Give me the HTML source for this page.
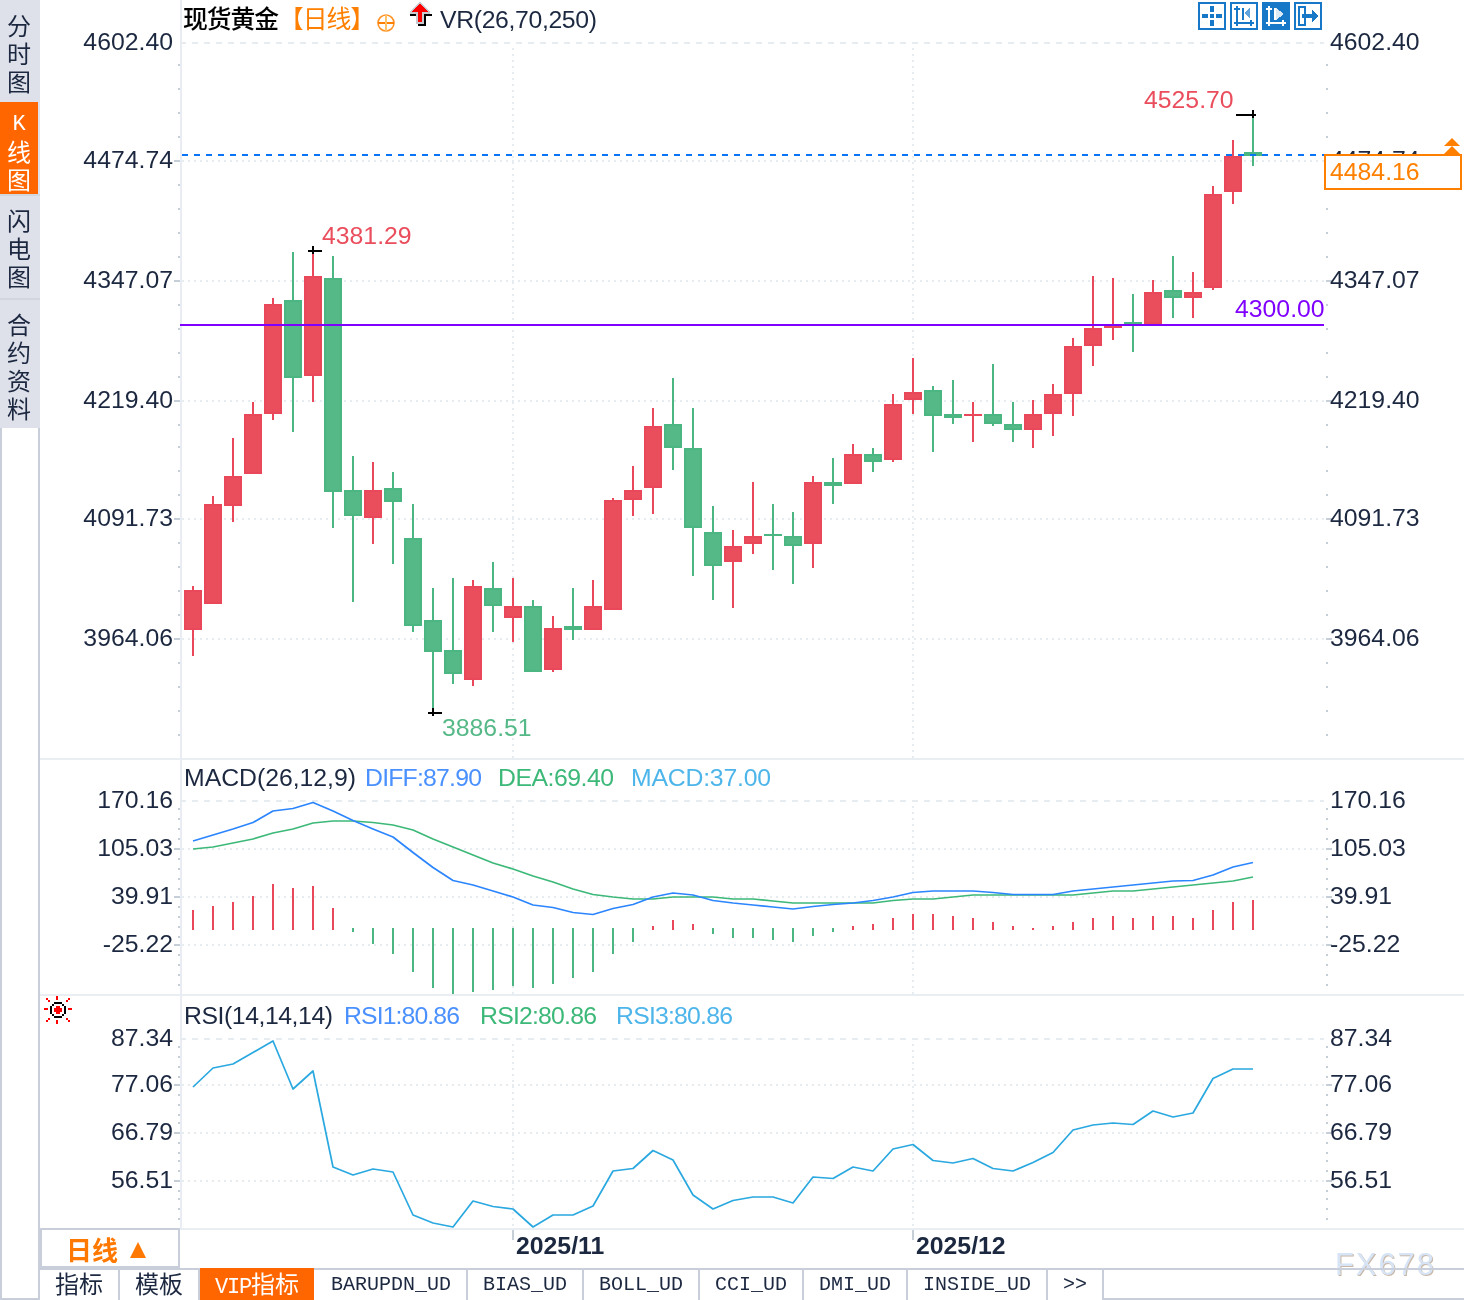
<!DOCTYPE html>
<html lang="zh-CN"><head><meta charset="utf-8"><title>现货黄金 日线</title>
<style>
html,body{margin:0;padding:0;background:#fff}
body{width:1464px;height:1300px;position:relative;overflow:hidden;font-family:"Liberation Sans","Noto Sans CJK SC",sans-serif;color:#1c2840}
#side{position:absolute;left:0;top:0;width:40px;height:428px;background:#dfe1ea}
#side .tab{position:absolute;left:0;width:38px;text-align:center;font-size:24px;line-height:28px}
#side .tab span{display:block;height:28px}
#side .sep{position:absolute;left:0;width:40px;height:2px;background:#d2d6df}
#sidebox{position:absolute;left:0;top:428px;width:36px;height:870px;border:2px solid #c8cfda;border-top:none;background:#fff}
#period{position:absolute;left:40px;top:1228px;width:136px;height:36px;border:2px solid #c8cfda;background:#fff;box-sizing:content-box}
#period b{position:absolute;left:24px;top:3px;font-size:26px;line-height:36px;color:#ff7800;font-weight:bold}
#period i{position:absolute;left:88px;top:12px;width:0;height:0;border-left:8px solid transparent;border-right:8px solid transparent;border-bottom:16px solid #ff7800}
#tabs{position:absolute;left:40px;top:1268px;height:32px;width:1424px;border-top:2px solid #c8cfda;box-sizing:border-box}
#tabs div{position:absolute;top:0;height:30px;line-height:30px;font-size:24px;border-right:2px solid #c8cfda;text-align:center;white-space:nowrap}
#tabs .m{font-family:"Liberation Mono","Noto Sans CJK SC",monospace;font-size:20px;line-height:30px}
#tabs .on{background:#ff6600;color:#fff;top:-2px;height:32px;line-height:34px;border-right:none}
#tabs .end{border-right:none;border-bottom:2px solid #c8cfda;height:28px}
</style></head><body>
<svg width="1464" height="1300" viewBox="0 0 1464 1300" style="position:absolute;left:0;top:0" shape-rendering="crispEdges">
<rect x="40" y="758" width="1424" height="2" fill="#e9eef3"/>
<rect x="40" y="994" width="1424" height="2" fill="#e9eef3"/>
<rect x="40" y="1228" width="1424" height="2" fill="#e9eef3"/>
<rect x="180" y="0" width="2" height="1230" fill="#e9edf3"/>
<line x1="180" y1="43" x2="1324" y2="43" stroke="#e7ecf1" stroke-width="2" stroke-dasharray="6 6"/>
<line x1="182" y1="161" x2="1324" y2="161" stroke="#e7ecf1" stroke-width="2" stroke-dasharray="2 4"/>
<line x1="182" y1="281" x2="1324" y2="281" stroke="#e7ecf1" stroke-width="2" stroke-dasharray="2 4"/>
<line x1="182" y1="401" x2="1324" y2="401" stroke="#e7ecf1" stroke-width="2" stroke-dasharray="2 4"/>
<line x1="182" y1="519" x2="1324" y2="519" stroke="#e7ecf1" stroke-width="2" stroke-dasharray="2 4"/>
<line x1="182" y1="639" x2="1324" y2="639" stroke="#e7ecf1" stroke-width="2" stroke-dasharray="2 4"/>
<line x1="180" y1="801" x2="1324" y2="801" stroke="#e7ecf1" stroke-width="2" stroke-dasharray="6 6"/>
<line x1="182" y1="849" x2="1324" y2="849" stroke="#e7ecf1" stroke-width="2" stroke-dasharray="2 4"/>
<line x1="182" y1="897" x2="1324" y2="897" stroke="#e7ecf1" stroke-width="2" stroke-dasharray="2 4"/>
<line x1="182" y1="945" x2="1324" y2="945" stroke="#e7ecf1" stroke-width="2" stroke-dasharray="2 4"/>
<line x1="180" y1="1039" x2="1324" y2="1039" stroke="#e7ecf1" stroke-width="2" stroke-dasharray="6 6"/>
<line x1="182" y1="1085" x2="1324" y2="1085" stroke="#e7ecf1" stroke-width="2" stroke-dasharray="2 4"/>
<line x1="182" y1="1133" x2="1324" y2="1133" stroke="#e7ecf1" stroke-width="2" stroke-dasharray="2 4"/>
<line x1="182" y1="1181" x2="1324" y2="1181" stroke="#e7ecf1" stroke-width="2" stroke-dasharray="2 4"/>
<line x1="513" y1="48" x2="513" y2="758" stroke="#e7ecf1" stroke-width="2" stroke-dasharray="2 4"/>
<line x1="513" y1="806" x2="513" y2="994" stroke="#e7ecf1" stroke-width="2" stroke-dasharray="2 4"/>
<line x1="513" y1="1044" x2="513" y2="1228" stroke="#e7ecf1" stroke-width="2" stroke-dasharray="2 4"/>
<rect x="512" y="1230" width="2" height="10" fill="#c6ced7"/>
<line x1="913" y1="48" x2="913" y2="758" stroke="#e7ecf1" stroke-width="2" stroke-dasharray="2 4"/>
<line x1="913" y1="806" x2="913" y2="994" stroke="#e7ecf1" stroke-width="2" stroke-dasharray="2 4"/>
<line x1="913" y1="1044" x2="913" y2="1228" stroke="#e7ecf1" stroke-width="2" stroke-dasharray="2 4"/>
<rect x="912" y="1230" width="2" height="10" fill="#c6ced7"/>
<rect x="178" y="64" width="2" height="2" fill="#c6ced7"/>
<rect x="1326" y="64" width="2" height="2" fill="#c6ced7"/>
<rect x="178" y="88" width="2" height="2" fill="#c6ced7"/>
<rect x="1326" y="88" width="2" height="2" fill="#c6ced7"/>
<rect x="178" y="112" width="2" height="2" fill="#c6ced7"/>
<rect x="1326" y="112" width="2" height="2" fill="#c6ced7"/>
<rect x="178" y="136" width="2" height="2" fill="#c6ced7"/>
<rect x="1326" y="136" width="2" height="2" fill="#c6ced7"/>
<rect x="174" y="160" width="6" height="2" fill="#c6ced7"/>
<rect x="1326" y="160" width="6" height="2" fill="#c6ced7"/>
<rect x="178" y="184" width="2" height="2" fill="#c6ced7"/>
<rect x="1326" y="184" width="2" height="2" fill="#c6ced7"/>
<rect x="178" y="208" width="2" height="2" fill="#c6ced7"/>
<rect x="1326" y="208" width="2" height="2" fill="#c6ced7"/>
<rect x="178" y="232" width="2" height="2" fill="#c6ced7"/>
<rect x="1326" y="232" width="2" height="2" fill="#c6ced7"/>
<rect x="178" y="256" width="2" height="2" fill="#c6ced7"/>
<rect x="1326" y="256" width="2" height="2" fill="#c6ced7"/>
<rect x="174" y="280" width="6" height="2" fill="#c6ced7"/>
<rect x="1326" y="280" width="6" height="2" fill="#c6ced7"/>
<rect x="178" y="304" width="2" height="2" fill="#c6ced7"/>
<rect x="1326" y="304" width="2" height="2" fill="#c6ced7"/>
<rect x="178" y="328" width="2" height="2" fill="#c6ced7"/>
<rect x="1326" y="328" width="2" height="2" fill="#c6ced7"/>
<rect x="178" y="352" width="2" height="2" fill="#c6ced7"/>
<rect x="1326" y="352" width="2" height="2" fill="#c6ced7"/>
<rect x="178" y="376" width="2" height="2" fill="#c6ced7"/>
<rect x="1326" y="376" width="2" height="2" fill="#c6ced7"/>
<rect x="174" y="400" width="6" height="2" fill="#c6ced7"/>
<rect x="1326" y="400" width="6" height="2" fill="#c6ced7"/>
<rect x="178" y="424" width="2" height="2" fill="#c6ced7"/>
<rect x="1326" y="424" width="2" height="2" fill="#c6ced7"/>
<rect x="178" y="446" width="2" height="2" fill="#c6ced7"/>
<rect x="1326" y="446" width="2" height="2" fill="#c6ced7"/>
<rect x="178" y="470" width="2" height="2" fill="#c6ced7"/>
<rect x="1326" y="470" width="2" height="2" fill="#c6ced7"/>
<rect x="178" y="494" width="2" height="2" fill="#c6ced7"/>
<rect x="1326" y="494" width="2" height="2" fill="#c6ced7"/>
<rect x="174" y="518" width="6" height="2" fill="#c6ced7"/>
<rect x="1326" y="518" width="6" height="2" fill="#c6ced7"/>
<rect x="178" y="542" width="2" height="2" fill="#c6ced7"/>
<rect x="1326" y="542" width="2" height="2" fill="#c6ced7"/>
<rect x="178" y="566" width="2" height="2" fill="#c6ced7"/>
<rect x="1326" y="566" width="2" height="2" fill="#c6ced7"/>
<rect x="178" y="590" width="2" height="2" fill="#c6ced7"/>
<rect x="1326" y="590" width="2" height="2" fill="#c6ced7"/>
<rect x="178" y="614" width="2" height="2" fill="#c6ced7"/>
<rect x="1326" y="614" width="2" height="2" fill="#c6ced7"/>
<rect x="174" y="638" width="6" height="2" fill="#c6ced7"/>
<rect x="1326" y="638" width="6" height="2" fill="#c6ced7"/>
<rect x="178" y="662" width="2" height="2" fill="#c6ced7"/>
<rect x="1326" y="662" width="2" height="2" fill="#c6ced7"/>
<rect x="178" y="686" width="2" height="2" fill="#c6ced7"/>
<rect x="1326" y="686" width="2" height="2" fill="#c6ced7"/>
<rect x="178" y="710" width="2" height="2" fill="#c6ced7"/>
<rect x="1326" y="710" width="2" height="2" fill="#c6ced7"/>
<rect x="178" y="734" width="2" height="2" fill="#c6ced7"/>
<rect x="1326" y="734" width="2" height="2" fill="#c6ced7"/>
<rect x="178" y="808" width="2" height="2" fill="#c6ced7"/>
<rect x="1326" y="808" width="2" height="2" fill="#c6ced7"/>
<rect x="178" y="818" width="2" height="2" fill="#c6ced7"/>
<rect x="1326" y="818" width="2" height="2" fill="#c6ced7"/>
<rect x="178" y="828" width="2" height="2" fill="#c6ced7"/>
<rect x="1326" y="828" width="2" height="2" fill="#c6ced7"/>
<rect x="178" y="838" width="2" height="2" fill="#c6ced7"/>
<rect x="1326" y="838" width="2" height="2" fill="#c6ced7"/>
<rect x="174" y="848" width="6" height="2" fill="#c6ced7"/>
<rect x="1326" y="848" width="6" height="2" fill="#c6ced7"/>
<rect x="178" y="858" width="2" height="2" fill="#c6ced7"/>
<rect x="1326" y="858" width="2" height="2" fill="#c6ced7"/>
<rect x="178" y="868" width="2" height="2" fill="#c6ced7"/>
<rect x="1326" y="868" width="2" height="2" fill="#c6ced7"/>
<rect x="178" y="878" width="2" height="2" fill="#c6ced7"/>
<rect x="1326" y="878" width="2" height="2" fill="#c6ced7"/>
<rect x="178" y="888" width="2" height="2" fill="#c6ced7"/>
<rect x="1326" y="888" width="2" height="2" fill="#c6ced7"/>
<rect x="174" y="896" width="6" height="2" fill="#c6ced7"/>
<rect x="1326" y="896" width="6" height="2" fill="#c6ced7"/>
<rect x="178" y="906" width="2" height="2" fill="#c6ced7"/>
<rect x="1326" y="906" width="2" height="2" fill="#c6ced7"/>
<rect x="178" y="916" width="2" height="2" fill="#c6ced7"/>
<rect x="1326" y="916" width="2" height="2" fill="#c6ced7"/>
<rect x="178" y="926" width="2" height="2" fill="#c6ced7"/>
<rect x="1326" y="926" width="2" height="2" fill="#c6ced7"/>
<rect x="178" y="936" width="2" height="2" fill="#c6ced7"/>
<rect x="1326" y="936" width="2" height="2" fill="#c6ced7"/>
<rect x="174" y="944" width="6" height="2" fill="#c6ced7"/>
<rect x="1326" y="944" width="6" height="2" fill="#c6ced7"/>
<rect x="178" y="954" width="2" height="2" fill="#c6ced7"/>
<rect x="1326" y="954" width="2" height="2" fill="#c6ced7"/>
<rect x="178" y="964" width="2" height="2" fill="#c6ced7"/>
<rect x="1326" y="964" width="2" height="2" fill="#c6ced7"/>
<rect x="178" y="974" width="2" height="2" fill="#c6ced7"/>
<rect x="1326" y="974" width="2" height="2" fill="#c6ced7"/>
<rect x="178" y="984" width="2" height="2" fill="#c6ced7"/>
<rect x="1326" y="984" width="2" height="2" fill="#c6ced7"/>
<rect x="178" y="1046" width="2" height="2" fill="#c6ced7"/>
<rect x="1326" y="1046" width="2" height="2" fill="#c6ced7"/>
<rect x="178" y="1056" width="2" height="2" fill="#c6ced7"/>
<rect x="1326" y="1056" width="2" height="2" fill="#c6ced7"/>
<rect x="178" y="1066" width="2" height="2" fill="#c6ced7"/>
<rect x="1326" y="1066" width="2" height="2" fill="#c6ced7"/>
<rect x="178" y="1076" width="2" height="2" fill="#c6ced7"/>
<rect x="1326" y="1076" width="2" height="2" fill="#c6ced7"/>
<rect x="174" y="1084" width="6" height="2" fill="#c6ced7"/>
<rect x="1326" y="1084" width="6" height="2" fill="#c6ced7"/>
<rect x="178" y="1094" width="2" height="2" fill="#c6ced7"/>
<rect x="1326" y="1094" width="2" height="2" fill="#c6ced7"/>
<rect x="178" y="1104" width="2" height="2" fill="#c6ced7"/>
<rect x="1326" y="1104" width="2" height="2" fill="#c6ced7"/>
<rect x="178" y="1114" width="2" height="2" fill="#c6ced7"/>
<rect x="1326" y="1114" width="2" height="2" fill="#c6ced7"/>
<rect x="178" y="1122" width="2" height="2" fill="#c6ced7"/>
<rect x="1326" y="1122" width="2" height="2" fill="#c6ced7"/>
<rect x="174" y="1132" width="6" height="2" fill="#c6ced7"/>
<rect x="1326" y="1132" width="6" height="2" fill="#c6ced7"/>
<rect x="178" y="1142" width="2" height="2" fill="#c6ced7"/>
<rect x="1326" y="1142" width="2" height="2" fill="#c6ced7"/>
<rect x="178" y="1152" width="2" height="2" fill="#c6ced7"/>
<rect x="1326" y="1152" width="2" height="2" fill="#c6ced7"/>
<rect x="178" y="1160" width="2" height="2" fill="#c6ced7"/>
<rect x="1326" y="1160" width="2" height="2" fill="#c6ced7"/>
<rect x="178" y="1170" width="2" height="2" fill="#c6ced7"/>
<rect x="1326" y="1170" width="2" height="2" fill="#c6ced7"/>
<rect x="174" y="1180" width="6" height="2" fill="#c6ced7"/>
<rect x="1326" y="1180" width="6" height="2" fill="#c6ced7"/>
<rect x="178" y="1190" width="2" height="2" fill="#c6ced7"/>
<rect x="1326" y="1190" width="2" height="2" fill="#c6ced7"/>
<rect x="178" y="1198" width="2" height="2" fill="#c6ced7"/>
<rect x="1326" y="1198" width="2" height="2" fill="#c6ced7"/>
<rect x="178" y="1208" width="2" height="2" fill="#c6ced7"/>
<rect x="1326" y="1208" width="2" height="2" fill="#c6ced7"/>
<rect x="178" y="1218" width="2" height="2" fill="#c6ced7"/>
<rect x="1326" y="1218" width="2" height="2" fill="#c6ced7"/>
<rect x="192" y="586" width="2" height="70" fill="#e9485b"/>
<rect x="184" y="590" width="18" height="40" fill="#e9485b"/>
<rect x="186" y="592" width="14" height="36" fill="#ea4d5c"/>
<rect x="212" y="496" width="2" height="108" fill="#e9485b"/>
<rect x="204" y="504" width="18" height="100" fill="#e9485b"/>
<rect x="206" y="506" width="14" height="96" fill="#ea4d5c"/>
<rect x="232" y="438" width="2" height="84" fill="#e9485b"/>
<rect x="224" y="476" width="18" height="30" fill="#e9485b"/>
<rect x="226" y="478" width="14" height="26" fill="#ea4d5c"/>
<rect x="252" y="402" width="2" height="72" fill="#e9485b"/>
<rect x="244" y="414" width="18" height="60" fill="#e9485b"/>
<rect x="246" y="416" width="14" height="56" fill="#ea4d5c"/>
<rect x="272" y="298" width="2" height="122" fill="#e9485b"/>
<rect x="264" y="304" width="18" height="110" fill="#e9485b"/>
<rect x="266" y="306" width="14" height="106" fill="#ea4d5c"/>
<rect x="292" y="252" width="2" height="180" fill="#4cb683"/>
<rect x="284" y="300" width="18" height="78" fill="#4cb683"/>
<rect x="286" y="302" width="14" height="74" fill="#55b987"/>
<rect x="312" y="250" width="2" height="152" fill="#e9485b"/>
<rect x="304" y="276" width="18" height="100" fill="#e9485b"/>
<rect x="306" y="278" width="14" height="96" fill="#ea4d5c"/>
<rect x="332" y="256" width="2" height="272" fill="#4cb683"/>
<rect x="324" y="278" width="18" height="214" fill="#4cb683"/>
<rect x="326" y="280" width="14" height="210" fill="#55b987"/>
<rect x="352" y="456" width="2" height="146" fill="#4cb683"/>
<rect x="344" y="490" width="18" height="26" fill="#4cb683"/>
<rect x="346" y="492" width="14" height="22" fill="#55b987"/>
<rect x="372" y="462" width="2" height="82" fill="#e9485b"/>
<rect x="364" y="490" width="18" height="28" fill="#e9485b"/>
<rect x="366" y="492" width="14" height="24" fill="#ea4d5c"/>
<rect x="392" y="472" width="2" height="92" fill="#4cb683"/>
<rect x="384" y="488" width="18" height="14" fill="#4cb683"/>
<rect x="386" y="490" width="14" height="10" fill="#55b987"/>
<rect x="412" y="504" width="2" height="128" fill="#4cb683"/>
<rect x="404" y="538" width="18" height="88" fill="#4cb683"/>
<rect x="406" y="540" width="14" height="84" fill="#55b987"/>
<rect x="432" y="588" width="2" height="122" fill="#4cb683"/>
<rect x="424" y="620" width="18" height="32" fill="#4cb683"/>
<rect x="426" y="622" width="14" height="28" fill="#55b987"/>
<rect x="452" y="578" width="2" height="106" fill="#4cb683"/>
<rect x="444" y="650" width="18" height="24" fill="#4cb683"/>
<rect x="446" y="652" width="14" height="20" fill="#55b987"/>
<rect x="472" y="580" width="2" height="106" fill="#e9485b"/>
<rect x="464" y="586" width="18" height="94" fill="#e9485b"/>
<rect x="466" y="588" width="14" height="90" fill="#ea4d5c"/>
<rect x="492" y="562" width="2" height="70" fill="#4cb683"/>
<rect x="484" y="588" width="18" height="18" fill="#4cb683"/>
<rect x="486" y="590" width="14" height="14" fill="#55b987"/>
<rect x="512" y="578" width="2" height="64" fill="#e9485b"/>
<rect x="504" y="606" width="18" height="12" fill="#e9485b"/>
<rect x="506" y="608" width="14" height="8" fill="#ea4d5c"/>
<rect x="532" y="600" width="2" height="72" fill="#4cb683"/>
<rect x="524" y="606" width="18" height="66" fill="#4cb683"/>
<rect x="526" y="608" width="14" height="62" fill="#55b987"/>
<rect x="552" y="616" width="2" height="56" fill="#e9485b"/>
<rect x="544" y="628" width="18" height="42" fill="#e9485b"/>
<rect x="546" y="630" width="14" height="38" fill="#ea4d5c"/>
<rect x="572" y="588" width="2" height="52" fill="#4cb683"/>
<rect x="564" y="626" width="18" height="4" fill="#4cb683"/>
<rect x="592" y="580" width="2" height="50" fill="#e9485b"/>
<rect x="584" y="606" width="18" height="24" fill="#e9485b"/>
<rect x="586" y="608" width="14" height="20" fill="#ea4d5c"/>
<rect x="612" y="498" width="2" height="112" fill="#e9485b"/>
<rect x="604" y="500" width="18" height="110" fill="#e9485b"/>
<rect x="606" y="502" width="14" height="106" fill="#ea4d5c"/>
<rect x="632" y="466" width="2" height="50" fill="#e9485b"/>
<rect x="624" y="490" width="18" height="10" fill="#e9485b"/>
<rect x="626" y="492" width="14" height="6" fill="#ea4d5c"/>
<rect x="652" y="408" width="2" height="106" fill="#e9485b"/>
<rect x="644" y="426" width="18" height="62" fill="#e9485b"/>
<rect x="646" y="428" width="14" height="58" fill="#ea4d5c"/>
<rect x="672" y="378" width="2" height="92" fill="#4cb683"/>
<rect x="664" y="424" width="18" height="24" fill="#4cb683"/>
<rect x="666" y="426" width="14" height="20" fill="#55b987"/>
<rect x="692" y="408" width="2" height="168" fill="#4cb683"/>
<rect x="684" y="448" width="18" height="80" fill="#4cb683"/>
<rect x="686" y="450" width="14" height="76" fill="#55b987"/>
<rect x="712" y="506" width="2" height="94" fill="#4cb683"/>
<rect x="704" y="532" width="18" height="34" fill="#4cb683"/>
<rect x="706" y="534" width="14" height="30" fill="#55b987"/>
<rect x="732" y="530" width="2" height="78" fill="#e9485b"/>
<rect x="724" y="546" width="18" height="16" fill="#e9485b"/>
<rect x="726" y="548" width="14" height="12" fill="#ea4d5c"/>
<rect x="752" y="482" width="2" height="72" fill="#e9485b"/>
<rect x="744" y="536" width="18" height="8" fill="#e9485b"/>
<rect x="746" y="538" width="14" height="4" fill="#ea4d5c"/>
<rect x="772" y="504" width="2" height="66" fill="#4cb683"/>
<rect x="764" y="534" width="18" height="2" fill="#4cb683"/>
<rect x="792" y="512" width="2" height="72" fill="#4cb683"/>
<rect x="784" y="536" width="18" height="10" fill="#4cb683"/>
<rect x="786" y="538" width="14" height="6" fill="#55b987"/>
<rect x="812" y="476" width="2" height="92" fill="#e9485b"/>
<rect x="804" y="482" width="18" height="62" fill="#e9485b"/>
<rect x="806" y="484" width="14" height="58" fill="#ea4d5c"/>
<rect x="832" y="458" width="2" height="46" fill="#4cb683"/>
<rect x="824" y="482" width="18" height="4" fill="#4cb683"/>
<rect x="852" y="444" width="2" height="40" fill="#e9485b"/>
<rect x="844" y="454" width="18" height="30" fill="#e9485b"/>
<rect x="846" y="456" width="14" height="26" fill="#ea4d5c"/>
<rect x="872" y="448" width="2" height="24" fill="#4cb683"/>
<rect x="864" y="454" width="18" height="8" fill="#4cb683"/>
<rect x="866" y="456" width="14" height="4" fill="#55b987"/>
<rect x="892" y="394" width="2" height="68" fill="#e9485b"/>
<rect x="884" y="404" width="18" height="56" fill="#e9485b"/>
<rect x="886" y="406" width="14" height="52" fill="#ea4d5c"/>
<rect x="912" y="358" width="2" height="56" fill="#e9485b"/>
<rect x="904" y="392" width="18" height="8" fill="#e9485b"/>
<rect x="906" y="394" width="14" height="4" fill="#ea4d5c"/>
<rect x="932" y="386" width="2" height="66" fill="#4cb683"/>
<rect x="924" y="390" width="18" height="26" fill="#4cb683"/>
<rect x="926" y="392" width="14" height="22" fill="#55b987"/>
<rect x="952" y="380" width="2" height="44" fill="#4cb683"/>
<rect x="944" y="414" width="18" height="4" fill="#4cb683"/>
<rect x="972" y="402" width="2" height="40" fill="#e9485b"/>
<rect x="964" y="414" width="18" height="2" fill="#e9485b"/>
<rect x="992" y="364" width="2" height="62" fill="#4cb683"/>
<rect x="984" y="414" width="18" height="10" fill="#4cb683"/>
<rect x="986" y="416" width="14" height="6" fill="#55b987"/>
<rect x="1012" y="402" width="2" height="40" fill="#4cb683"/>
<rect x="1004" y="424" width="18" height="6" fill="#4cb683"/>
<rect x="1006" y="426" width="14" height="2" fill="#55b987"/>
<rect x="1032" y="400" width="2" height="48" fill="#e9485b"/>
<rect x="1024" y="414" width="18" height="16" fill="#e9485b"/>
<rect x="1026" y="416" width="14" height="12" fill="#ea4d5c"/>
<rect x="1052" y="384" width="2" height="52" fill="#e9485b"/>
<rect x="1044" y="394" width="18" height="20" fill="#e9485b"/>
<rect x="1046" y="396" width="14" height="16" fill="#ea4d5c"/>
<rect x="1072" y="338" width="2" height="78" fill="#e9485b"/>
<rect x="1064" y="346" width="18" height="48" fill="#e9485b"/>
<rect x="1066" y="348" width="14" height="44" fill="#ea4d5c"/>
<rect x="1092" y="276" width="2" height="90" fill="#e9485b"/>
<rect x="1084" y="328" width="18" height="18" fill="#e9485b"/>
<rect x="1086" y="330" width="14" height="14" fill="#ea4d5c"/>
<rect x="1112" y="278" width="2" height="62" fill="#e9485b"/>
<rect x="1104" y="326" width="18" height="2" fill="#e9485b"/>
<rect x="1132" y="294" width="2" height="58" fill="#4cb683"/>
<rect x="1124" y="322" width="18" height="2" fill="#4cb683"/>
<rect x="1152" y="280" width="2" height="44" fill="#e9485b"/>
<rect x="1144" y="292" width="18" height="32" fill="#e9485b"/>
<rect x="1146" y="294" width="14" height="28" fill="#ea4d5c"/>
<rect x="1172" y="256" width="2" height="62" fill="#4cb683"/>
<rect x="1164" y="290" width="18" height="8" fill="#4cb683"/>
<rect x="1166" y="292" width="14" height="4" fill="#55b987"/>
<rect x="1192" y="272" width="2" height="46" fill="#e9485b"/>
<rect x="1184" y="292" width="18" height="6" fill="#e9485b"/>
<rect x="1186" y="294" width="14" height="2" fill="#ea4d5c"/>
<rect x="1212" y="186" width="2" height="104" fill="#e9485b"/>
<rect x="1204" y="194" width="18" height="94" fill="#e9485b"/>
<rect x="1206" y="196" width="14" height="90" fill="#ea4d5c"/>
<rect x="1232" y="140" width="2" height="64" fill="#e9485b"/>
<rect x="1224" y="156" width="18" height="36" fill="#e9485b"/>
<rect x="1226" y="158" width="14" height="32" fill="#ea4d5c"/>
<rect x="1252" y="116" width="2" height="50" fill="#4cb683"/>
<rect x="1244" y="152" width="18" height="4" fill="#4cb683"/>
<rect x="180" y="324" width="1144" height="2" fill="#8000ff"/>
<line x1="182" y1="155" x2="1324" y2="155" stroke="#0a74f5" stroke-width="2" stroke-dasharray="6 6"/>
<rect x="308" y="250" width="14" height="2" fill="#000"/>
<rect x="312" y="246" width="2" height="8" fill="#000"/>
<rect x="428" y="712" width="14" height="2" fill="#000"/>
<rect x="432" y="708" width="2" height="8" fill="#000"/>
<rect x="1236" y="114" width="20" height="2" fill="#000"/>
<rect x="1252" y="110" width="2" height="8" fill="#000"/>
<rect x="192" y="910" width="2" height="20" fill="#e9485b"/>
<rect x="212" y="906" width="2" height="24" fill="#e9485b"/>
<rect x="232" y="902" width="2" height="28" fill="#e9485b"/>
<rect x="252" y="896" width="2" height="34" fill="#e9485b"/>
<rect x="272" y="884" width="2" height="46" fill="#e9485b"/>
<rect x="292" y="888" width="2" height="42" fill="#e9485b"/>
<rect x="312" y="886" width="2" height="44" fill="#e9485b"/>
<rect x="332" y="908" width="2" height="22" fill="#e9485b"/>
<rect x="352" y="928" width="2" height="4" fill="#4cb683"/>
<rect x="372" y="928" width="2" height="16" fill="#4cb683"/>
<rect x="392" y="928" width="2" height="26" fill="#4cb683"/>
<rect x="412" y="928" width="2" height="44" fill="#4cb683"/>
<rect x="432" y="928" width="2" height="60" fill="#4cb683"/>
<rect x="452" y="928" width="2" height="66" fill="#4cb683"/>
<rect x="472" y="928" width="2" height="64" fill="#4cb683"/>
<rect x="492" y="928" width="2" height="62" fill="#4cb683"/>
<rect x="512" y="928" width="2" height="58" fill="#4cb683"/>
<rect x="532" y="928" width="2" height="60" fill="#4cb683"/>
<rect x="552" y="928" width="2" height="56" fill="#4cb683"/>
<rect x="572" y="928" width="2" height="50" fill="#4cb683"/>
<rect x="592" y="928" width="2" height="44" fill="#4cb683"/>
<rect x="612" y="928" width="2" height="26" fill="#4cb683"/>
<rect x="632" y="928" width="2" height="14" fill="#4cb683"/>
<rect x="652" y="926" width="2" height="4" fill="#e9485b"/>
<rect x="672" y="920" width="2" height="10" fill="#e9485b"/>
<rect x="692" y="924" width="2" height="6" fill="#e9485b"/>
<rect x="712" y="928" width="2" height="6" fill="#4cb683"/>
<rect x="732" y="928" width="2" height="10" fill="#4cb683"/>
<rect x="752" y="928" width="2" height="10" fill="#4cb683"/>
<rect x="772" y="928" width="2" height="12" fill="#4cb683"/>
<rect x="792" y="928" width="2" height="14" fill="#4cb683"/>
<rect x="812" y="928" width="2" height="8" fill="#4cb683"/>
<rect x="832" y="928" width="2" height="4" fill="#4cb683"/>
<rect x="852" y="926" width="2" height="4" fill="#e9485b"/>
<rect x="872" y="924" width="2" height="6" fill="#e9485b"/>
<rect x="892" y="918" width="2" height="12" fill="#e9485b"/>
<rect x="912" y="914" width="2" height="16" fill="#e9485b"/>
<rect x="932" y="914" width="2" height="16" fill="#e9485b"/>
<rect x="952" y="916" width="2" height="14" fill="#e9485b"/>
<rect x="972" y="918" width="2" height="12" fill="#e9485b"/>
<rect x="992" y="922" width="2" height="8" fill="#e9485b"/>
<rect x="1012" y="926" width="2" height="4" fill="#e9485b"/>
<rect x="1032" y="928" width="2" height="2" fill="#e9485b"/>
<rect x="1052" y="926" width="2" height="4" fill="#e9485b"/>
<rect x="1072" y="922" width="2" height="8" fill="#e9485b"/>
<rect x="1092" y="918" width="2" height="12" fill="#e9485b"/>
<rect x="1112" y="916" width="2" height="14" fill="#e9485b"/>
<rect x="1132" y="918" width="2" height="12" fill="#e9485b"/>
<rect x="1152" y="916" width="2" height="14" fill="#e9485b"/>
<rect x="1172" y="916" width="2" height="14" fill="#e9485b"/>
<rect x="1192" y="918" width="2" height="12" fill="#e9485b"/>
<rect x="1212" y="910" width="2" height="20" fill="#e9485b"/>
<rect x="1232" y="902" width="2" height="28" fill="#e9485b"/>
<rect x="1252" y="900" width="2" height="30" fill="#e9485b"/>
<polyline points="193,849 213,847 233,843 253,839 273,833 293,829 313,823 333,821 353,821 373,822.5 393,825 413,830 433,839 453,847 473,855 493,863 513,869 533,876 553,882 573,889 593,894.5 613,897 633,899 653,899 673,897 693,897 713,897 733,899 753,899 773,901 793,903 813,903 833,903 853,903 873,903 893,900.5 913,899 933,899 953,897 973,895 993,895 1013,895 1033,895 1053,895 1073,895 1093,893 1113,891 1133,891 1153,889 1173,887 1193,885 1213,883 1233,881 1253,877" fill="none" stroke="#3cb878" stroke-width="1.7" stroke-linejoin="round" shape-rendering="auto"/>
<polyline points="193,841 213,835 233,829 253,822.5 273,811 293,808.5 313,802.5 333,811 353,820.5 373,829 393,837 413,852.5 433,867.5 453,880.5 473,885 493,891 513,897 533,905 553,907.5 573,912.5 593,914.5 613,908.5 633,904.5 653,897 673,893 693,895 713,900.5 733,903 753,905 773,907 793,909 813,906.5 833,904.5 853,903 873,900.5 893,897 913,892.5 933,891 953,891 973,891 993,892.5 1013,894.5 1033,894.5 1053,894.5 1073,891 1093,889 1113,887 1133,885 1153,883 1173,881 1193,880.5 1213,875 1233,867 1253,862.5" fill="none" stroke="#2b85ff" stroke-width="1.7" stroke-linejoin="round" shape-rendering="auto"/>
<polyline points="193,1087 213,1068 233,1064 253,1052.5 273,1041 293,1089 313,1071 333,1167 353,1175 373,1169 393,1172 413,1215 433,1223 453,1227 473,1201 493,1206.5 513,1209 533,1227 553,1215 573,1215 593,1206 613,1171 633,1168.5 653,1150.5 673,1160 693,1195 713,1209 733,1200.5 753,1197 773,1197 793,1203 813,1177 833,1178.5 853,1167 873,1171 893,1149 913,1144.5 933,1160.5 953,1163 973,1158.5 993,1168.5 1013,1171 1033,1162.5 1053,1152.5 1073,1130 1093,1125 1113,1123 1133,1124.5 1153,1111 1173,1117 1193,1113 1213,1078.5 1233,1069 1253,1069" fill="none" stroke="#2aa8e0" stroke-width="1.7" stroke-linejoin="round" shape-rendering="auto"/>
</svg>
<svg width="1464" height="1300" viewBox="0 0 1464 1300" style="position:absolute;left:0;top:0" font-family="'Liberation Sans', 'Noto Sans CJK SC', sans-serif">
<text x="173" y="50" fill="#1c2840" font-size="24.8" font-weight="normal" text-anchor="end" >4602.40</text>
<text x="1330" y="50" fill="#1c2840" font-size="24.8" font-weight="normal" text-anchor="start" >4602.40</text>
<text x="173" y="168" fill="#1c2840" font-size="24.8" font-weight="normal" text-anchor="end" >4474.74</text>
<text x="1330" y="168" fill="#1c2840" font-size="24.8" font-weight="normal" text-anchor="start" >4474.74</text>
<text x="173" y="288" fill="#1c2840" font-size="24.8" font-weight="normal" text-anchor="end" >4347.07</text>
<text x="1330" y="288" fill="#1c2840" font-size="24.8" font-weight="normal" text-anchor="start" >4347.07</text>
<text x="173" y="408" fill="#1c2840" font-size="24.8" font-weight="normal" text-anchor="end" >4219.40</text>
<text x="1330" y="408" fill="#1c2840" font-size="24.8" font-weight="normal" text-anchor="start" >4219.40</text>
<text x="173" y="526" fill="#1c2840" font-size="24.8" font-weight="normal" text-anchor="end" >4091.73</text>
<text x="1330" y="526" fill="#1c2840" font-size="24.8" font-weight="normal" text-anchor="start" >4091.73</text>
<text x="173" y="646" fill="#1c2840" font-size="24.8" font-weight="normal" text-anchor="end" >3964.06</text>
<text x="1330" y="646" fill="#1c2840" font-size="24.8" font-weight="normal" text-anchor="start" >3964.06</text>
<text x="173" y="808" fill="#1c2840" font-size="24.8" font-weight="normal" text-anchor="end" >170.16</text>
<text x="1330" y="808" fill="#1c2840" font-size="24.8" font-weight="normal" text-anchor="start" >170.16</text>
<text x="173" y="856" fill="#1c2840" font-size="24.8" font-weight="normal" text-anchor="end" >105.03</text>
<text x="1330" y="856" fill="#1c2840" font-size="24.8" font-weight="normal" text-anchor="start" >105.03</text>
<text x="173" y="904" fill="#1c2840" font-size="24.8" font-weight="normal" text-anchor="end" >39.91</text>
<text x="1330" y="904" fill="#1c2840" font-size="24.8" font-weight="normal" text-anchor="start" >39.91</text>
<text x="173" y="952" fill="#1c2840" font-size="24.8" font-weight="normal" text-anchor="end" >-25.22</text>
<text x="1330" y="952" fill="#1c2840" font-size="24.8" font-weight="normal" text-anchor="start" >-25.22</text>
<text x="173" y="1046" fill="#1c2840" font-size="24.8" font-weight="normal" text-anchor="end" >87.34</text>
<text x="1330" y="1046" fill="#1c2840" font-size="24.8" font-weight="normal" text-anchor="start" >87.34</text>
<text x="173" y="1092" fill="#1c2840" font-size="24.8" font-weight="normal" text-anchor="end" >77.06</text>
<text x="1330" y="1092" fill="#1c2840" font-size="24.8" font-weight="normal" text-anchor="start" >77.06</text>
<text x="173" y="1140" fill="#1c2840" font-size="24.8" font-weight="normal" text-anchor="end" >66.79</text>
<text x="1330" y="1140" fill="#1c2840" font-size="24.8" font-weight="normal" text-anchor="start" >66.79</text>
<text x="173" y="1188" fill="#1c2840" font-size="24.8" font-weight="normal" text-anchor="end" >56.51</text>
<text x="1330" y="1188" fill="#1c2840" font-size="24.8" font-weight="normal" text-anchor="start" >56.51</text>
<rect x="1325" y="155" width="136" height="34" fill="#fff" stroke="#ff8000" stroke-width="2"/>
<text x="1330" y="180" fill="#ff8000" font-size="24.8" font-weight="normal" text-anchor="start" >4484.16</text>
<path d="M1452 138 l8 8 h-16 z M1452 146 l8 8 h-16 z" fill="#ff8000"/>
<text x="322" y="244" fill="#ea4d5c" font-size="24.8" font-weight="normal" text-anchor="start" >4381.29</text>
<text x="1144" y="108" fill="#ea4d5c" font-size="24.8" font-weight="normal" text-anchor="start" >4525.70</text>
<text x="442" y="736" fill="#55b987" font-size="24.8" font-weight="normal" text-anchor="start" >3886.51</text>
<text x="1235" y="317" fill="#8000ff" font-size="24.8" font-weight="normal" text-anchor="start" >4300.00</text>
<text x="183" y="28" fill="#000" font-size="24.8" font-weight="500" text-anchor="start" textLength="96">现货黄金</text>
<text x="279" y="28" fill="#ff8000" font-size="24.8" font-weight="normal" text-anchor="start" textLength="96">【日线】</text>
<text x="440" y="28" fill="#1c2840" font-size="24.8" font-weight="normal" text-anchor="start" textLength="157">VR(26,70,250)</text>
<circle cx="386" cy="23" r="8" fill="none" stroke="#ff9326" stroke-width="1.6"/><rect x="378" y="22" width="16" height="2" fill="#ff8000"/><rect x="385" y="15" width="2" height="16" fill="#ffc266"/>
<g shape-rendering="crispEdges"><path d="M410 14h22v2h-22z M424 14h2v12h-2z M418 24h8v2h-8z" fill="#000"/><path d="M420 1 l10 11 v2 h-6 v10 h-8 v-10 h-6 v-2z" fill="#c8ccd0"/><path d="M420 3 l8 9 h-6 v10 h-4 v-10 h-6z" fill="#ff0000"/></g>
<text x="184" y="786" fill="#1c2840" font-size="24.8" font-weight="normal" text-anchor="start" textLength="172">MACD(26,12,9)</text>
<text x="365" y="786" fill="#4a90ff" font-size="24.8" font-weight="normal" text-anchor="start" textLength="117">DIFF:87.90</text>
<text x="498" y="786" fill="#3cb878" font-size="24.8" font-weight="normal" text-anchor="start" textLength="116">DEA:69.40</text>
<text x="631" y="786" fill="#4db5ea" font-size="24.8" font-weight="normal" text-anchor="start" textLength="140">MACD:37.00</text>
<text x="184" y="1024" fill="#1c2840" font-size="24.8" font-weight="normal" text-anchor="start" textLength="149">RSI(14,14,14)</text>
<text x="344" y="1024" fill="#4a90ff" font-size="24.8" font-weight="normal" text-anchor="start" textLength="116">RSI1:80.86</text>
<text x="480" y="1024" fill="#3cb878" font-size="24.8" font-weight="normal" text-anchor="start" textLength="117">RSI2:80.86</text>
<text x="616" y="1024" fill="#4db5ea" font-size="24.8" font-weight="normal" text-anchor="start" textLength="117">RSI3:80.86</text>
<text x="516" y="1254" fill="#1c2840" font-size="24.8" font-weight="bold" text-anchor="start" >2025/11</text>
<text x="916" y="1254" fill="#1c2840" font-size="24.8" font-weight="bold" text-anchor="start" >2025/12</text>
<text x="1335" y="1275" font-size="31" fill="#d6e4f5" letter-spacing="3" textLength="102" style="filter:drop-shadow(1px 1px 0 #c9b8a8)">FX678</text>
<g shape-rendering="crispEdges">
<rect x="1199" y="3" width="26" height="26" fill="#fff" stroke="#1878c8" stroke-width="2"/>
<rect x="1231" y="3" width="26" height="26" fill="#fff" stroke="#1878c8" stroke-width="2"/>
<rect x="1295" y="3" width="26" height="26" fill="#fff" stroke="#1878c8" stroke-width="2"/>
<rect x="1262" y="2" width="28" height="28" fill="#1878c8"/>
<path d="M1210 6h4v6h-4z M1210 14h4v4h-4z M1210 20h4v6h-4z M1202 14h6v4h-6z M1216 14h6v4h-6z" fill="#1878c8"/>
<path d="M1236 6h2v20h-2z M1234 8h6v2h-6z M1234 22h20v2h-20z M1250 20h2v6h-2z M1242 8h2v12h-2z" fill="#1878c8"/><path d="M1244 13l6 -5v10z" fill="#5fa3dc"/>
<path d="M1268 6h2v20h-2z M1266 8h6v2h-6z M1266 22h20v2h-20z M1282 20h2v6h-2z M1274 8h2v12h-2z" fill="#fff"/><path d="M1276 8l8 6 -8 6z" fill="#dceaf6"/>
<rect x="1299" y="7" width="6" height="18" fill="none" stroke="#1878c8" stroke-width="2"/><path d="M1302 14h10v-4l6 6 -6 6v-4h-10z" fill="#1878c8"/>
</g>
<g shape-rendering="crispEdges"><rect x="56" y="996" width="2" height="4" fill="#ff0000"/><rect x="56" y="1020" width="2" height="4" fill="#ff0000"/><rect x="44" y="1008" width="4" height="2" fill="#ff0000"/><rect x="68" y="1008" width="4" height="2" fill="#ff0000"/><rect x="46" y="998" width="2" height="2" fill="#ff0000"/><rect x="48" y="1000" width="2" height="2" fill="#ff0000"/><rect x="68" y="998" width="2" height="2" fill="#ff0000"/><rect x="66" y="1000" width="2" height="2" fill="#ff0000"/><rect x="48" y="1018" width="2" height="2" fill="#ff0000"/><rect x="46" y="1020" width="2" height="2" fill="#ff0000"/><rect x="66" y="1018" width="2" height="2" fill="#ff0000"/><rect x="68" y="1020" width="2" height="2" fill="#ff0000"/><rect x="54" y="1002" width="8" height="2" fill="#000"/><rect x="54" y="1016" width="8" height="2" fill="#000"/><rect x="50" y="1006" width="2" height="8" fill="#000"/><rect x="64" y="1006" width="2" height="8" fill="#000"/><rect x="52" y="1004" width="2" height="2" fill="#000"/><rect x="62" y="1004" width="2" height="2" fill="#000"/><rect x="52" y="1014" width="2" height="2" fill="#000"/><rect x="62" y="1014" width="2" height="2" fill="#000"/><rect x="56" y="1006" width="4" height="2" fill="#ff0000"/><rect x="54" y="1008" width="8" height="4" fill="#ff0000"/><rect x="56" y="1012" width="4" height="2" fill="#ff0000"/></g>
</svg>
<div id="side">
<div class="tab" style="top:13px"><span>分</span><span>时</span><span>图</span></div>
<div class="tab" style="top:102px;height:92px;background:#ff6600;color:#fff"><div style="padding-top:9px"><span style="font-family:'Liberation Mono',monospace;font-size:22px">K</span><span>线</span><span>图</span></div></div>
<div class="sep" style="top:194px"></div>
<div class="tab" style="top:208px"><span>闪</span><span>电</span><span>图</span></div>
<div class="sep" style="top:298px"></div>
<div class="tab" style="top:312px"><span>合</span><span>约</span><span>资</span><span>料</span></div>
</div>
<div id="sidebox"></div>
<div id="period"><b>日线</b><i></i></div>
<div id="tabs">
<div style="left:0;width:78px">指标</div>
<div style="left:80px;width:78px">模板</div>
<div class="on" style="left:160px;width:114px"><span class="m" style="font-size:22px;letter-spacing:-1.2px">VIP</span>指标</div>
<div class="m" style="left:276px;width:150px">BARUPDN_UD</div>
<div class="m" style="left:428px;width:114px">BIAS_UD</div>
<div class="m" style="left:544px;width:114px">BOLL_UD</div>
<div class="m" style="left:660px;width:102px">CCI_UD</div>
<div class="m" style="left:764px;width:102px">DMI_UD</div>
<div class="m" style="left:868px;width:138px">INSIDE_UD</div>
<div class="m" style="left:1008px;width:54px">&gt;&gt;</div>
<div class="end" style="left:1064px;width:360px"></div>
</div>
</body></html>
